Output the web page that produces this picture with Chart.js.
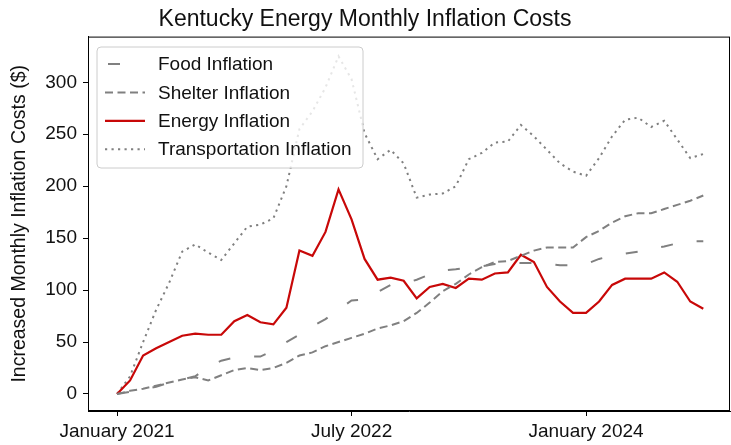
<!DOCTYPE html>
<html>
<head>
<meta charset="utf-8">
<script src="https://cdn.jsdelivr.net/npm/chart.js@4.4.1/dist/chart.umd.min.js"></script>
<style>
  html, body { margin: 0; padding: 0; background: #fff; }
  #wrap { width: 731px; height: 445px; }
</style>
</head>
<body>
<div id="wrap"><canvas id="chart" width="731" height="445"></canvas></div>
<script>
// monthly values, January 2021 .. October 2024 (x = month index)
const foodValues = [0, 2, 4, 7, 11, 14, 17, 26, 32, 35, 36, 36, 42, 50, 57, 65, 72, 81, 90, 91,
  98, 105, 106, 110, 115, 119, 120, 122, 123, 125, 126, 126, 126, 125, 124, 124, 125, 130, 133, 135,
  137, 140, 142, 145, 147, 147];
const shelterValues = [0, 3, 5, 8, 11, 14, 16, 13, 18, 23, 25, 23, 25, 30, 37, 40, 46, 50, 54, 58,
  63, 66, 70, 78, 88, 99, 106, 115, 122, 127, 128, 133, 138, 141, 141, 141, 151, 157, 165, 171,
  174, 174, 178, 182, 186, 191];
const energyValues = [0, 13, 37, 44, 50, 56, 58, 57, 57, 70, 76, 69, 67, 83, 138, 133, 156, 197, 168, 130,
  110, 112, 109, 92, 103, 106, 102, 111, 110, 116, 117, 134, 127, 103, 89, 78, 78, 89, 105, 111,
  111, 111, 117, 108, 89, 82];
const transportValues = [0, 17, 50, 81, 107, 137, 144, 136, 129, 145, 161, 163, 169, 200, 255, 272, 295, 325, 303, 251,
  226, 235, 222, 189, 192, 193, 200, 226, 232, 242, 243, 259, 248, 235, 222, 214, 210, 227, 248, 264,
  266, 257, 263, 245, 227, 231];

const xTickIndex = [0, 18, 36];
const xTickLabels = ["January 2021", "July 2022", "January 2024"];
const yTicks = [0, 50, 100, 150, 200, 250, 300];

const FONT = "'Liberation Sans', Arial, Helvetica, sans-serif";
const GRAY = "#808080";
const RED = "#c80808";

function toPoints(values) {
  return values.map((v, i) => ({ x: i, y: v }));
}

// matplotlib-like box round the axes plus the legend inside it
const framePlugin = {
  id: "frame",
  afterDatasetsDraw(chart) {
    const { ctx, chartArea: a } = chart;
    ctx.save();
    ctx.strokeStyle = "#000";
    ctx.lineWidth = 1;
    ctx.strokeRect(a.left + 0.5, a.top + 0.5, a.right - a.left - 1, a.bottom - a.top - 1);

    // legend
    const x0 = 97, y0 = 47, w = 266, h = 121, r = 4;
    ctx.beginPath();
    ctx.moveTo(x0 + r, y0);
    ctx.arcTo(x0 + w, y0, x0 + w, y0 + h, r);
    ctx.arcTo(x0 + w, y0 + h, x0, y0 + h, r);
    ctx.arcTo(x0, y0 + h, x0, y0, r);
    ctx.arcTo(x0, y0, x0 + w, y0, r);
    ctx.closePath();
    ctx.fillStyle = "rgba(255,255,255,0.8)";
    ctx.fill();
    ctx.strokeStyle = "#cccccc";
    ctx.stroke();

    ctx.font = "19px " + FONT;
    ctx.textBaseline = "middle";
    ctx.textAlign = "left";
    chart.data.datasets.forEach((ds, i) => {
      const y = 64 + i * 28.4;
      ctx.beginPath();
      ctx.strokeStyle = ds.borderColor;
      ctx.lineWidth = ds.borderWidth;
      ctx.setLineDash(ds.legendDash || ds.borderDash || []);
      ctx.lineDashOffset = ds.legendDashOffset || 0;
      ctx.moveTo(105, y);
      ctx.lineTo(145, y);
      ctx.stroke();
      ctx.setLineDash([]);
      ctx.fillStyle = "#111";
      ctx.fillText(ds.label, 158, y + 1);
    });
    ctx.restore();
  },
};

new Chart(document.getElementById("chart"), {
  type: "line",
  data: {
    datasets: [
      { label: "Food Inflation", data: toPoints(foodValues), borderColor: GRAY, borderWidth: 2,
        borderDash: [12, 24], legendDash: [12, 60], legendDashOffset: -3 },
      { label: "Shelter Inflation", data: toPoints(shelterValues), borderColor: GRAY, borderWidth: 2,
        borderDash: [8, 4.5] },
      { label: "Energy Inflation", data: toPoints(energyValues), borderColor: RED, borderWidth: 2.2 },
      { label: "Transportation Inflation", data: toPoints(transportValues), borderColor: GRAY, borderWidth: 2,
        borderDash: [2.2, 4.3] },
    ],
  },
  options: {
    responsive: false,
    animation: false,
    devicePixelRatio: 1,
    layout: { padding: { left: 0, right: 1, top: 0, bottom: 0 } },
    elements: { point: { radius: 0 }, line: { tension: 0, borderCapStyle: "butt" } },
    plugins: {
      legend: { display: false },
      tooltip: { enabled: false },
      title: {
        display: true,
        text: "Kentucky Energy Monthly Inflation Costs",
        color: "#111",
        font: { family: FONT, size: 23, weight: "normal" },
        padding: { top: 6, bottom: 3 },
      },
    },
    scales: {
      x: {
        type: "linear",
        min: -2.23,
        max: 47.05,
        afterFit(scale) { scale.height = 34; },
        afterBuildTicks(scale) { scale.ticks = xTickIndex.map((v) => ({ value: v })); },
        ticks: {
          color: "#111",
          font: { family: FONT, size: 19 },
          padding: 4,
          maxRotation: 0,
          autoSkip: false,
          callback: (value) => xTickLabels[xTickIndex.indexOf(value)],
        },
        grid: { drawOnChartArea: false, drawTicks: true, tickLength: 5, tickColor: "#000" },
        border: { display: true, color: "#000" },
      },
      y: {
        min: -16.4,
        max: 344,
        afterFit(scale) { scale.width = 88; },
        afterBuildTicks(scale) { scale.ticks = yTicks.map((v) => ({ value: v })); },
        ticks: {
          color: "#111",
          font: { family: FONT, size: 19 },
          padding: 6,
        },
        grid: { drawOnChartArea: false, drawTicks: true, tickLength: 5, tickColor: "#000" },
        border: { display: true, color: "#000" },
        title: {
          display: true,
          text: "Increased Monthly Inflation Costs ($)",
          color: "#111",
          font: { family: FONT, size: 19.5 },
          padding: { top: 8, bottom: 0 },
        },
      },
    },
  },
  plugins: [framePlugin],
});
</script>
</body>
</html>
